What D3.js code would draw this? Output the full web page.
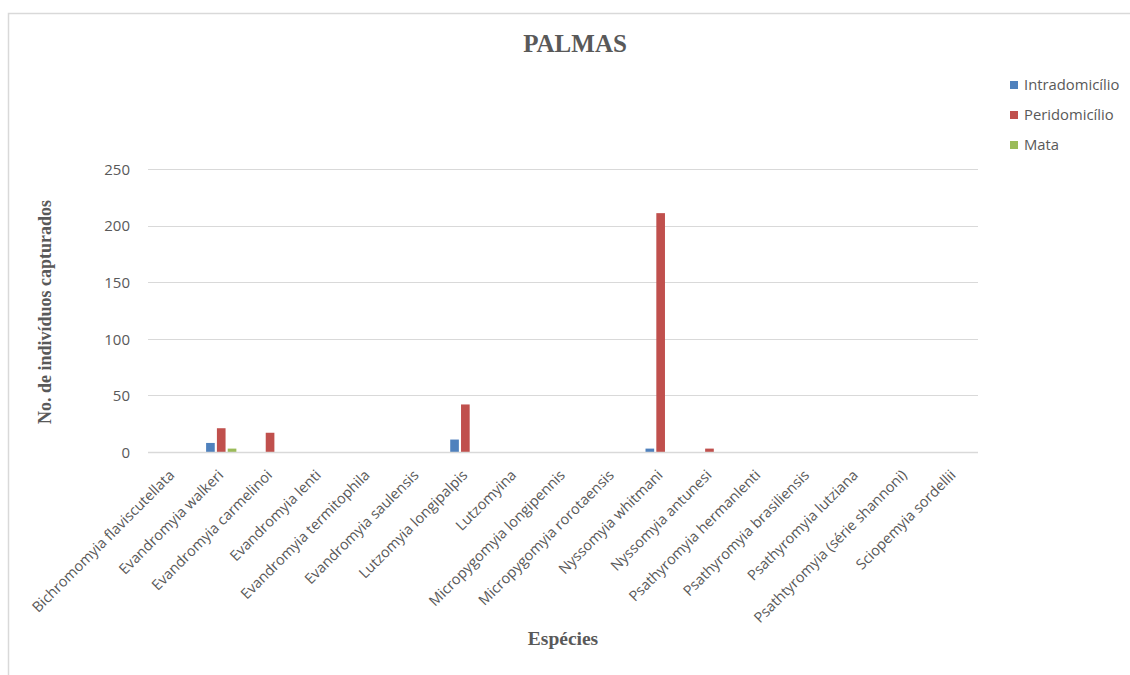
<!DOCTYPE html>
<html>
<head>
<meta charset="utf-8">
<script src="https://cdn.jsdelivr.net/npm/d3@7"></script>
<style>
  html, body { margin: 0; padding: 0; background: #fff; }
  svg { display: block; }
</style>
</head>
<body>
<svg id="chart" width="1130" height="675"></svg>
<script>
// Sand fly species captured in Palmas, by capture environment
const species = [
  "Bichromomyia flaviscutellata",
  "Evandromyia walkeri",
  "Evandromyia carmelinoi",
  "Evandromyia lenti",
  "Evandromyia termitophila",
  "Evandromyia saulensis",
  "Lutzomyia longipalpis",
  "Lutzomyina",
  "Micropygomyia longipennis",
  "Micropygomyia rorotaensis",
  "Nyssomyia whitmani",
  "Nyssomyia antunesi",
  "Psathyromyia hermanlenti",
  "Psathyromyia brasiliensis",
  "Psathyromyia lutziana",
  "Psathtyromyia (série shannoni)",
  "Sciopemyia sordellii"
];
const seriesNames = ["Intradomicílio", "Peridomicílio", "Mata"];
const intradomicilio = [0, 8, 0, 0, 0, 0, 11, 0, 0, 0, 3, 0, 0, 0, 0, 0, 0];
const peridomicilio  = [0, 21, 17, 0, 0, 0, 42, 0, 0, 0, 211, 3, 0, 0, 0, 0, 0];
const mata           = [0, 3, 0, 0, 0, 0, 0, 0, 0, 0, 0, 0, 0, 0, 0, 0, 0];
const yTicks = [0, 50, 100, 150, 200, 250];
const seriesColors = ["#4f81bd", "#c0504d", "#9bbb59"];

const seriesValues = [intradomicilio, peridomicilio, mata];

const svg = d3.select("#chart");
const W = 1130, H = 675;
const plot = { left: 148, right: 978, top: 169, bottom: 452 };
const sans = "'Open Sans', 'Liberation Sans', sans-serif";
const serif = "'Liberation Serif', 'Times New Roman', serif";

// chart frame
svg.append("path")
  .attr("d", `M8.5,${H} L8.5,13.5 L${W},13.5`)
  .attr("fill", "none")
  .attr("stroke", "#d9d9d9")
  .attr("stroke-width", 1.5);

const x = d3.scaleBand().domain(species).range([plot.left, plot.right]).paddingInner(0).paddingOuter(0);
const y = d3.scaleLinear().domain([0, 250]).range([plot.bottom, plot.top]);
const groupW = x.bandwidth() * 0.62;
const xs = d3.scaleBand().domain(seriesNames).range([-groupW / 2, groupW / 2]).paddingInner(0.2);

// gridlines
svg.append("g")
  .selectAll("line")
  .data(yTicks)
  .join("line")
  .attr("x1", plot.left).attr("x2", plot.right)
  .attr("y1", d => Math.round(y(d)) + 0.5).attr("y2", d => Math.round(y(d)) + 0.5)
  .attr("stroke", "#d9d9d9")
  .attr("stroke-width", 1);

// y axis labels
const yAxis = d3.axisLeft(y).tickValues(yTicks).tickSize(0).tickPadding(0);
const gy = svg.append("g").attr("transform", `translate(${plot.left - 18},0)`).call(yAxis);
gy.select(".domain").remove();
gy.selectAll("text")
  .attr("font-family", sans)
  .attr("font-size", 15)
  .attr("fill", "#595959")
  .attr("dy", "0.35em");

// bars
const groups = svg.append("g")
  .selectAll("g")
  .data(species)
  .join("g")
  .attr("transform", d => `translate(${x(d) + x.bandwidth() / 2},0)`);

groups.selectAll("rect")
  .data((d, i) => seriesNames.map((s, k) => ({ s, k, v: seriesValues[k][i] })).filter(e => e.v > 0))
  .join("rect")
  .attr("x", e => xs(e.s))
  .attr("width", xs.bandwidth())
  .attr("y", e => y(e.v))
  .attr("height", e => y(0) - y(e.v))
  .attr("fill", e => seriesColors[e.k]);

// x axis baseline
svg.append("line")
  .attr("x1", plot.left).attr("x2", plot.right)
  .attr("y1", plot.bottom + 0.5).attr("y2", plot.bottom + 0.5)
  .attr("stroke", "#d9d9d9").attr("stroke-width", 1.5);

// category labels, rotated
const xAxis = d3.axisBottom(x).tickSize(0).tickPadding(0);
const gx = svg.append("g").attr("transform", `translate(0,${plot.bottom})`).call(xAxis);
gx.select(".domain").remove();
gx.selectAll(".tick text")
  .attr("font-family", sans)
  .attr("font-size", 14.5)
  .attr("fill", "#595959")
  .attr("text-anchor", "end")
  .attr("dy", null)
  .attr("y", null)
  .attr("transform", "translate(3,24) rotate(-45)");

// title
svg.append("text")
  .attr("x", 575).attr("y", 52)
  .attr("text-anchor", "middle")
  .attr("font-family", serif)
  .attr("font-weight", "bold")
  .attr("font-size", 25)
  .attr("fill", "#595959")
  .text("PALMAS");

// axis titles
svg.append("text")
  .attr("transform", "translate(51,312) rotate(-90)")
  .attr("text-anchor", "middle")
  .attr("font-family", serif)
  .attr("font-weight", "bold")
  .attr("font-size", 18)
  .attr("fill", "#595959")
  .text("No. de indivíduos  capturados");

svg.append("text")
  .attr("x", 563).attr("y", 645)
  .attr("text-anchor", "middle")
  .attr("font-family", serif)
  .attr("font-weight", "bold")
  .attr("font-size", 19.5)
  .attr("fill", "#595959")
  .text("Espécies");

// legend
const legend = svg.append("g")
  .selectAll("g")
  .data(seriesNames)
  .join("g")
  .attr("transform", (d, i) => `translate(1010,${85 + i * 30})`);
legend.append("rect")
  .attr("x", 0).attr("y", -4).attr("width", 8).attr("height", 8)
  .attr("fill", (d, i) => seriesColors[i]);
legend.append("text")
  .attr("x", 14).attr("y", 0).attr("dy", "0.35em")
  .attr("font-family", sans)
  .attr("font-size", 14.8)
  .attr("fill", "#595959")
  .text(d => d);
</script>
</body>
</html>
